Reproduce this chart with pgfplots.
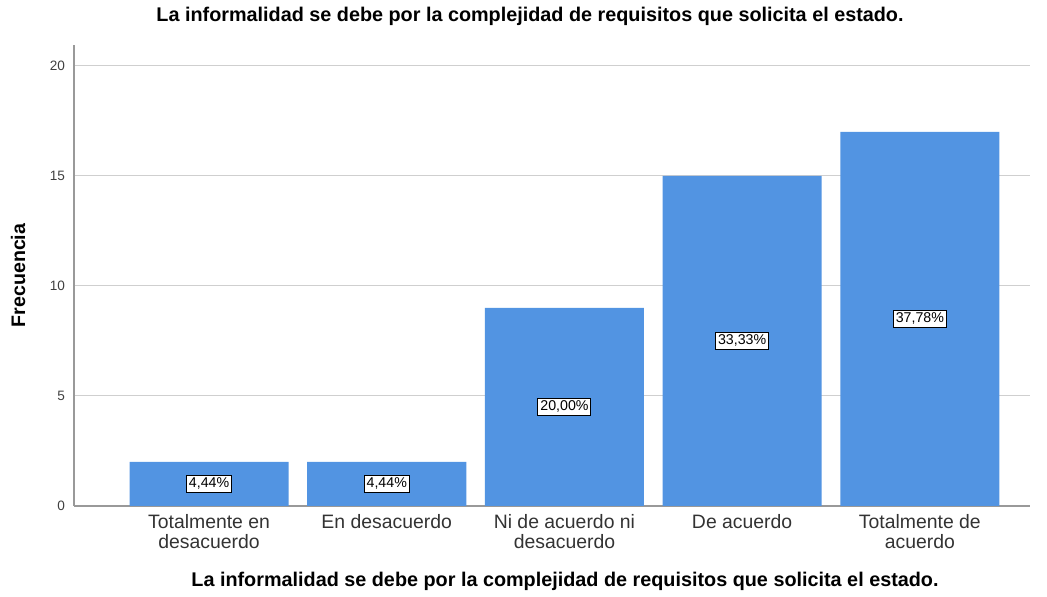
\documentclass[border=0pt]{standalone}
\usepackage{pgfplots}
\pgfplotsset{compat=1.18}
\usepackage{fontspec}
\setmainfont{Liberation Sans}
\definecolor{barblue}{HTML}{5294E2}
\definecolor{gridgrey}{HTML}{CFCFCF}
\begin{document}
\begin{tikzpicture}
\begin{axis}[
    width=478pt, height=230.5pt,
    scale only axis,
    xmin=-0.76, xmax=4.62,
    ymin=0, ymax=20.95,
    axis x line*=bottom, axis y line*=left,
    axis line style={draw=gray!80, line width=0.8pt},
    ytick={0,5,10,15,20},
    ymajorgrids, grid style={gridgrey, line width=0.6pt},
    major tick length=0pt,
    xtick={0,1,2,3,4},
    xticklabels={Totalmente en\\desacuerdo, En desacuerdo, Ni de acuerdo ni\\desacuerdo, De acuerdo, Totalmente de\\acuerdo},
    xticklabel style={align=center, font=\fontsize{9.7}{10}\selectfont, text=black!80, inner sep=2pt, yshift=-2pt},
    yticklabel style={font=\fontsize{6.8}{7}\selectfont, text=black!75, xshift=-1pt},
    /pgf/number format/assume math mode=true,
    ylabel={\textbf{Frecuencia}},
    ylabel style={font=\fontsize{9.8}{10}\selectfont, at={(axis description cs:0,0.5)}, anchor=center, yshift=28pt},
    xlabel={\textbf{La informalidad se debe por la complejidad de requisitos que solicita el estado.}},
    xlabel style={font=\fontsize{9.9}{10}\selectfont, at={(axis description cs:0.5,0)}, anchor=center, xshift=6.5pt, yshift=-37.5pt},
    title={\textbf{La informalidad se debe por la complejidad de requisitos que solicita el estado.}},
    title style={font=\fontsize{9.9}{10}\selectfont, at={(axis description cs:0.477,1)}, anchor=center, yshift=8.5pt},
    clip=false,
]
\addplot[ybar, bar width=0.895, fill=barblue, draw=none] coordinates {
    (0,2) (1,2) (2,9) (3,15) (4,17)
};
\addplot[only marks, mark=none, nodes near coords, point meta=explicit symbolic,
    nodes near coords style={anchor=center, draw=black, fill=white, line width=0.5pt,
    inner sep=1.2pt, font=\fontsize{7.1}{8}\selectfont}] coordinates {
    (0,1) [4,44\%]
    (1,1) [4,44\%]
    (2,4.5) [20,00\%]
    (3,7.5) [33,33\%]
    (4,8.5) [37,78\%]
};
\end{axis}
\path ([xshift=-37pt,yshift=-43.5pt]current axis.south west) rectangle ([xshift=8.5pt,yshift=21pt]current axis.north east);
\end{tikzpicture}
\end{document}
